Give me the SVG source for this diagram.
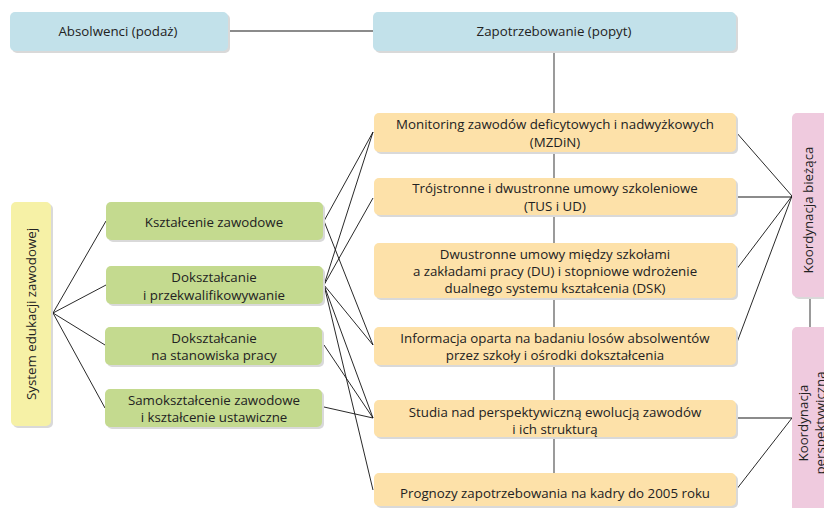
<svg xmlns="http://www.w3.org/2000/svg" width="824" height="508" viewBox="0 0 824 508">
  <defs>
    <style>
      .box { stroke: none; }
      .shadow { fill: #d9d9d9; }
      .blue { fill: #c2e1ea; }
      .orange { fill: #fde1a9; }
      .green { fill: #c4da8f; }
      .yellow { fill: #f6f1a6; }
      .pink { fill: #efcade; }
      text { font-family: "Open Sans", "DejaVu Sans", sans-serif; font-size: 13.3px; fill: #222; text-anchor: middle; dominant-baseline: central; }
      .trunk { stroke: #666; stroke-width: 1.3; fill: none; }
      .link { stroke: #111; stroke-width: 0.9; fill: none; }
    </style>
  </defs>

  <rect width="824" height="508" fill="#ffffff"/>

  <!-- connectors -->
  <g id="connectors">
    <path class="trunk" d="M228 31 H373 M554 51 V473 M736 197 H792 M810 297 V327 M736 418 H792"/>
    <path class="link" d="M53 313 L106 221 M53 313 L106 285 M53 313 L105 345 M53 313 L105 408"/>
    <path class="link" d="M324 221 L373 132 M324 221 L373 345"/>
    <path class="link" d="M324 285 L373 132 M324 285 L373 198 M324 285 L373 345 M324 285 L373 418 M324 285 L373 490"/>
    <path class="link" d="M324 345 L373 418 M324 407 L373 418"/>
    <path class="link" d="M736 132 L792 196 M736 270 L792 196 M736 345 L792 196 M736 490 L792 418"/>
  </g>

  <!-- top row -->
  <g id="absolwenci">
    <rect class="shadow" x="12" y="14" width="218" height="39" rx="5"/>
    <rect class="blue" x="10" y="12" width="218" height="39" rx="5"/>
    <text x="118" y="31">Absolwenci (podaż)</text>
  </g>
  <g id="zapotrzebowanie">
    <rect class="shadow" x="375" y="14" width="363" height="39" rx="5"/>
    <rect class="blue" x="373" y="12" width="363" height="39" rx="5"/>
    <text x="554" y="31">Zapotrzebowanie (popyt)</text>
  </g>

  <!-- education system -->
  <g id="system">
    <rect class="shadow" x="13" y="204" width="40" height="224" rx="5"/>
    <rect class="yellow" x="11" y="202" width="40" height="224" rx="5"/>
    <text x="31" y="314" transform="rotate(-90 31 314)">System edukacji zawodowej</text>
  </g>

  <!-- forms of training -->
  <g id="ksztalcenie">
    <rect class="shadow" x="108" y="204" width="217" height="38" rx="5"/>
    <rect class="green" x="106" y="202" width="217" height="38" rx="5"/>
    <text x="214" y="222">Kształcenie zawodowe</text>
  </g>
  <g id="doksztalcanie-przekwalifikowywanie">
    <rect class="shadow" x="108" y="268" width="217" height="38" rx="5"/>
    <rect class="green" x="106" y="266" width="217" height="38" rx="5"/>
    <text x="214" y="277">Dokształcanie</text>
    <text x="214" y="295">i przekwalifikowywanie</text>
  </g>
  <g id="doksztalcanie-stanowiska">
    <rect class="shadow" x="107" y="329" width="217" height="38" rx="5"/>
    <rect class="green" x="105" y="327" width="217" height="38" rx="5"/>
    <text x="214" y="338">Dokształcanie</text>
    <text x="214" y="355">na stanowiska pracy</text>
  </g>
  <g id="samoksztalcenie">
    <rect class="shadow" x="107" y="391" width="217" height="38" rx="5"/>
    <rect class="green" x="105" y="389" width="217" height="38" rx="5"/>
    <text x="214" y="400">Samokształcenie zawodowe</text>
    <text x="214" y="417">i kształcenie ustawiczne</text>
  </g>

  <!-- demand instruments -->
  <g id="mzdin">
    <rect class="shadow" x="376" y="115" width="362" height="39" rx="5"/>
    <rect class="orange" x="374" y="113" width="362" height="39" rx="5"/>
    <text x="555" y="124">Monitoring zawodów deficytowych i nadwyżkowych</text>
    <text x="555" y="142">(MZDiN)</text>
  </g>
  <g id="tus-ud">
    <rect class="shadow" x="376" y="180" width="362" height="37" rx="5"/>
    <rect class="orange" x="374" y="178" width="362" height="37" rx="5"/>
    <text x="555" y="188">Trójstronne i dwustronne umowy szkoleniowe</text>
    <text x="555" y="206">(TUS i UD)</text>
  </g>
  <g id="du-dsk">
    <rect class="shadow" x="376" y="245" width="362" height="55" rx="5"/>
    <rect class="orange" x="374" y="243" width="362" height="55" rx="5"/>
    <text x="555" y="254">Dwustronne umowy między szkołami</text>
    <text x="555" y="271">a zakładami pracy (DU) i stopniowe wdrożenie</text>
    <text x="555" y="288">dualnego systemu kształcenia (DSK)</text>
  </g>
  <g id="losy-absolwentow">
    <rect class="shadow" x="376" y="329" width="362" height="38" rx="5"/>
    <rect class="orange" x="374" y="327" width="362" height="38" rx="5"/>
    <text x="555" y="338">Informacja oparta na badaniu losów absolwentów</text>
    <text x="555" y="355">przez szkoły i ośrodki dokształcenia</text>
  </g>
  <g id="studia">
    <rect class="shadow" x="376" y="402" width="362" height="37" rx="5"/>
    <rect class="orange" x="374" y="400" width="362" height="37" rx="5"/>
    <text x="555" y="412">Studia nad perspektywiczną ewolucją zawodów</text>
    <text x="555" y="429">i ich strukturą</text>
  </g>
  <g id="prognozy">
    <rect class="shadow" x="376" y="475" width="362" height="33" rx="5"/>
    <rect class="orange" x="374" y="473" width="362" height="33" rx="5"/>
    <text x="555" y="493">Prognozy zapotrzebowania na kadry do 2005 roku</text>
  </g>

  <!-- coordination -->
  <g id="koordynacja-biezaca">
    <rect class="shadow" x="794" y="115" width="40" height="184" rx="5"/>
    <rect class="pink" x="792" y="113" width="40" height="184" rx="5"/>
    <text x="808" y="210" transform="rotate(-90 808 210)">Koordynacja bieżąca</text>
  </g>
  <g id="koordynacja-perspektywiczna">
    <rect class="shadow" x="794" y="329" width="40" height="190" rx="5"/>
    <rect class="pink" x="792" y="327" width="40" height="190" rx="5"/>
    <text x="803" y="423" transform="rotate(-90 803 423)">Koordynacja</text>
    <text x="820" y="423" transform="rotate(-90 820 423)">perspektywiczna</text>
  </g>
</svg>
